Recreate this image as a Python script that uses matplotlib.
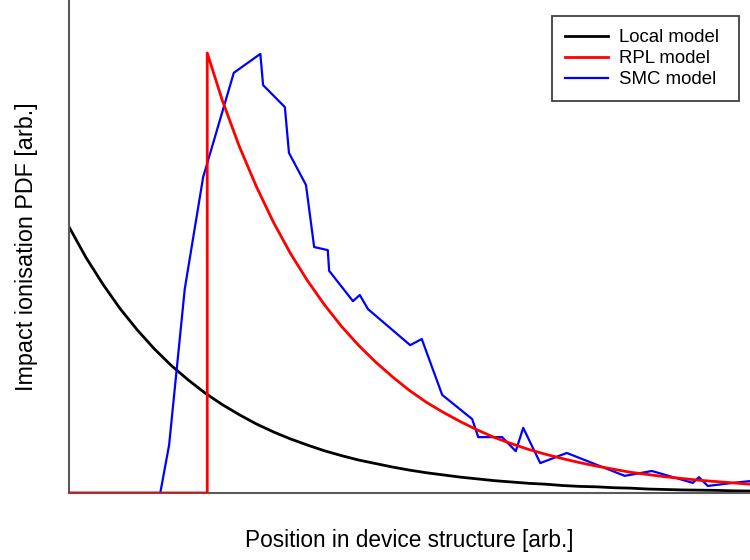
"""Impact ionisation PDF for the local, RPL and SMC models."""

import matplotlib

matplotlib.use("Agg")
import matplotlib.pyplot as plt

# Position grid (arb.) used for the two analytic models
x_local = [0, 2.5, 5, 7.5, 10, 12.5, 15, 17.5, 20, 22.5, 25, 27.5, 30, 32.5,
           35, 37.5, 40, 42.5, 45, 47.5, 50, 52.5, 55, 57.5, 60, 62.5, 65,
           67.5, 70, 72.5, 75, 77.5, 80, 82.5, 85, 87.5, 90, 92.5, 95, 97.5, 100]
local_pdf = [0.605, 0.535, 0.474, 0.419, 0.371, 0.328, 0.290, 0.257, 0.227,
             0.201, 0.178, 0.157, 0.139, 0.123, 0.109, 0.096, 0.085, 0.075,
             0.067, 0.059, 0.052, 0.046, 0.041, 0.036, 0.032, 0.028, 0.025,
             0.022, 0.020, 0.017, 0.015, 0.014, 0.012, 0.011, 0.009, 0.008,
             0.007, 0.0065, 0.006, 0.005, 0.0045]

# RPL: zero up to the dead space, then a decaying tail
x_rpl = [0, 20.3, 20.3, 22.5, 25, 27.5, 30, 32.5, 35, 37.5, 40, 42.5, 45,
         47.5, 50, 52.5, 55, 57.5, 60, 62.5, 65, 67.5, 70, 72.5, 75, 77.5,
         80, 82.5, 85, 87.5, 90, 92.5, 95, 97.5, 100]
rpl_pdf = [0, 0, 1.0, 0.893, 0.788, 0.697, 0.616, 0.545, 0.483, 0.428, 0.379,
           0.336, 0.298, 0.264, 0.233, 0.206, 0.183, 0.162, 0.143, 0.126,
           0.112, 0.099, 0.088, 0.078, 0.069, 0.061, 0.054, 0.047, 0.042,
           0.037, 0.033, 0.029, 0.026, 0.023, 0.020]

# SMC histogram
x_smc = [0, 13.4, 14.7, 17.0, 19.7, 24.2, 28.1, 28.5, 31.7, 32.3, 34.8, 36.0,
         38.0, 38.2, 41.7, 42.7, 43.9, 50.1, 51.8, 54.8, 59.2, 60.1, 63.6,
         65.6, 66.7, 69.2, 73.1, 81.6, 85.6, 91.6, 92.5, 93.8, 97.5, 100]
smc_pdf = [0, 0, 0.109, 0.464, 0.718, 0.955, 0.998, 0.927, 0.877, 0.773,
           0.700, 0.559, 0.552, 0.505, 0.436, 0.450, 0.418, 0.336, 0.350,
           0.223, 0.168, 0.127, 0.127, 0.095, 0.148, 0.068, 0.091, 0.039,
           0.050, 0.023, 0.036, 0.016, 0.023, 0.027]

plt.rcParams["font.family"] = ["Liberation Sans", "DejaVu Sans"]

fig = plt.figure(figsize=(7.5, 5.6), dpi=100)
ax = fig.add_axes([69 / 750, 67 / 560, 681 / 750, 493 / 560])

ax.plot(x_local, local_pdf, color="black", lw=2.0, label="Local model", zorder=2)
ax.plot(x_rpl, rpl_pdf, color="#ff0000", lw=2.0, label="RPL model", zorder=4)
ax.plot(x_smc, smc_pdf, color="#0000ff", lw=1.6, label="SMC model", zorder=3)

ax.set_xlim(0, 100)
ax.set_ylim(0, 493 / 440)
ax.set_xticks([])
ax.set_yticks([])
for side in ("top", "right"):
    ax.spines[side].set_visible(False)
for side in ("left", "bottom"):
    ax.spines[side].set_color("#5a5a5a")
    ax.spines[side].set_linewidth(1.5)

ax.set_xlabel("Position in device structure [arb.]", fontsize=16.3, labelpad=26)
ax.set_ylabel("Impact ionisation PDF [arb.]", fontsize=16.8, labelpad=22)

# legend box stretched to a fixed width in figure pixels
leg = ax.legend(loc="upper left",
                bbox_to_anchor=(552 / 750, 1 - 16 / 560, 187 / 750, 0),
                bbox_transform=fig.transFigure, mode="expand",
                fontsize=13.4, frameon=True, fancybox=False, framealpha=1,
                edgecolor="#404040", handlelength=2.3, handletextpad=0.6,
                labelspacing=0.22, borderpad=0.7, borderaxespad=0)
leg.get_frame().set_linewidth(1.3)

fig.savefig("out.png", dpi=100)
